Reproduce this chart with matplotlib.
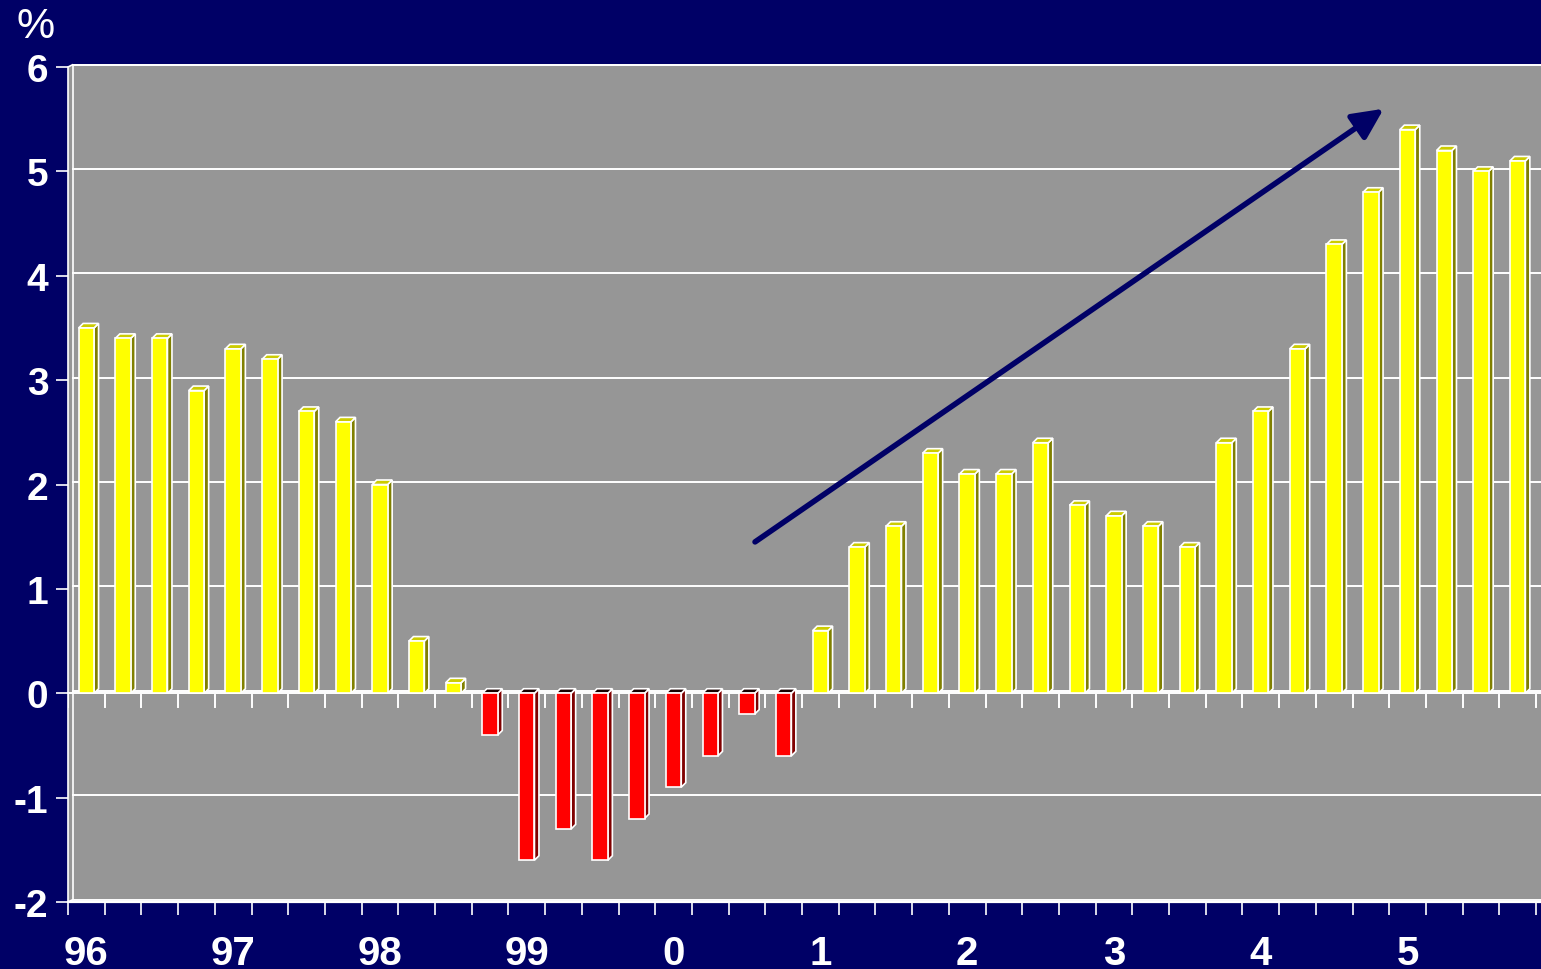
import matplotlib
matplotlib.use("Agg")
import matplotlib.pyplot as plt
from matplotlib.patches import Polygon

# Quarterly growth rate, %, 1996 Q1 .. 2005 Q4
year_labels = ["96", "97", "98", "99", "0", "1", "2", "3", "4", "5"]
growth = [3.5, 3.4, 3.4, 2.9,
          3.3, 3.2, 2.7, 2.6,
          2.0, 0.5, 0.1, -0.4,
          -1.6, -1.3, -1.6, -1.2,
          -0.9, -0.6, -0.2, -0.6,
          0.6, 1.4, 1.6, 2.3,
          2.1, 2.1, 2.4, 1.8,
          1.7, 1.6, 1.4, 2.4,
          2.7, 3.3, 4.3, 4.8,
          5.4, 5.2, 5.0, 5.1]
y_ticks = [-2, -1, 0, 1, 2, 3, 4, 5, 6]
trend_start = (18.72, 1.45)
trend_end = (35.85, 5.60)

NAVY = "#000066"
PANEL = "#969696"
YELLOW, YELLOW_SIDE, YELLOW_TOP = "#FFFF00", "#808000", "#CCCC00"
RED, RED_SIDE, RED_TOP = "#FF0000", "#800000", "#1A0000"
FONT = "Liberation Sans"

W, H = 1541, 970
fig = plt.figure(figsize=(W / 100, H / 100), dpi=100, facecolor=NAVY)

left_px, right_px, top_px, bot_px = 68, 1541, 68, 903
n = len(growth)
cat_px = (1536 - left_px) / n
ax = fig.add_axes([left_px / W, 1 - bot_px / H,
                   (right_px - left_px) / W, (bot_px - top_px) / H])
xmax = (right_px - left_px) / cat_px
ax.set_xlim(0, xmax)
ax.set_ylim(-2, 6)
ax.set_facecolor("none")
for s in ax.spines.values():
    s.set_visible(False)

# pixel -> data conversions for the 3-D depth offsets
px_x = xmax / (right_px - left_px)
px_y = 8.0 / (bot_px - top_px)
gdx, gdy = 5 * px_x, 2.5 * px_y      # back wall offset
bdx, bdy = 4.5 * px_x, 4.5 * px_y    # column depth

EW = 1.2

# back wall
ax.add_patch(Polygon([(gdx, -2 + gdy), (xmax + 1, -2 + gdy), (xmax + 1, 6 + gdy), (gdx, 6 + gdy)],
                     closed=True, facecolor=PANEL, edgecolor="none", zorder=0, clip_on=False))
# side wall
ax.add_patch(Polygon([(0, -2), (gdx, -2 + gdy), (gdx, 6 + gdy), (0, 6)],
                     closed=True, facecolor=PANEL, edgecolor="white", lw=EW, zorder=0.5, clip_on=False))
ax.plot([gdx, xmax + 1], [6 + gdy, 6 + gdy], color="white", lw=EW, zorder=0.6, clip_on=False)

# gridlines on the back wall
for v in y_ticks:
    ax.plot([gdx, xmax + 1], [v + gdy, v + gdy], color="white", lw=1.4, zorder=1, clip_on=False)
ax.plot([0, xmax + 1], [-2, -2], color="white", lw=1.6, zorder=1, clip_on=False)

# floor edge at zero
ax.plot([0, xmax + 1], [0, 0], color="white", lw=1.4, zorder=1.5, clip_on=False)

# tick marks under the zero line
for k in range(n + 1):
    ax.plot([k, k], [-0.02, -0.135], color="white", lw=1.4, zorder=1.5)

# columns
bw = 0.42
for i, v in enumerate(growth):
    xc = i + 0.5
    x0, x1 = xc - bw / 2, xc + bw / 2
    if v >= 0:
        front, side, top = YELLOW, YELLOW_SIDE, YELLOW_TOP
    else:
        front, side, top = RED, RED_SIDE, RED_TOP
    lo, hi = min(0, v), max(0, v)
    ax.add_patch(Polygon([(x1, lo), (x1 + bdx, lo + bdy), (x1 + bdx, hi + bdy), (x1, hi)],
                         closed=True, facecolor=side, edgecolor="white", lw=EW, zorder=3))
    ax.add_patch(Polygon([(x0, hi), (x1, hi), (x1 + bdx, hi + bdy), (x0 + bdx, hi + bdy)],
                         closed=True, facecolor=top, edgecolor="white", lw=EW, zorder=3))
ax.bar([i + 0.5 for i in range(n)], growth, width=bw,
       color=[YELLOW if v >= 0 else RED for v in growth],
       edgecolor="white", linewidth=EW, zorder=4)

# trend arrow
ax.annotate("", xy=trend_end, xytext=trend_start,
            arrowprops=dict(arrowstyle="-|>,head_length=0.62,head_width=0.3",
                            mutation_scale=30, color=NAVY, lw=4.0,
                            shrinkA=0, shrinkB=0), zorder=6)

# axes ticks and labels
ax.set_yticks(y_ticks)
ax.set_yticklabels([str(v) for v in y_ticks], fontsize=28, fontweight="bold",
                   color="white", family=FONT)
ax.tick_params(axis="y", which="major", length=8.6, width=1.2, color="white",
               direction="out", pad=5.5)
ax.set_xticks(range(n + 1))
ax.set_xticklabels([])
ax.tick_params(axis="x", which="major", length=9.4, width=1.2, color="white",
               direction="out")
ax.set_xticks([4 * k + 0.5 for k in range(len(year_labels))], minor=True)
ax.set_xticklabels(year_labels, minor=True, fontsize=29, fontweight="bold",
                   color="white", family=FONT)
ax.tick_params(axis="x", which="minor", length=0, pad=23)

fig.text(36 / W, 1 - 27 / H, "%", ha="center", va="center", fontsize=31,
         color="white", family=FONT)

fig.savefig("out.png", dpi=100, facecolor=NAVY)
